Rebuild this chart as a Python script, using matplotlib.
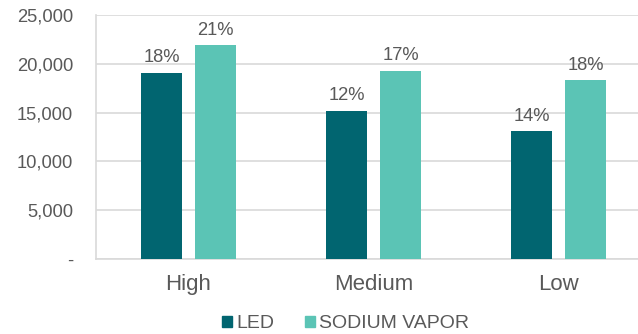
import matplotlib.pyplot as plt
from matplotlib.patches import Rectangle
from matplotlib.ticker import FuncFormatter
import numpy as np

plt.rcParams['font.family'] = ['Liberation Sans', 'DejaVu Sans']

categories = ["High", "Medium", "Low"]
led_values = [19100, 15200, 13100]
sodium_values = [21900, 19300, 18300]
led_labels = ["18%", "12%", "14%"]
sodium_labels = ["21%", "17%", "18%"]

LED_COLOR = "#016570"
SODIUM_COLOR = "#5BC4B5"
TEXT_COLOR = "#595959"
GRID_COLOR = "#D9D9D9"


def fmt_thousands(v, pos):
    if v == 0:
        return "-"
    return f"{v:,.0f}"


fig = plt.figure(figsize=(6.38, 3.34), dpi=100)
ax = fig.add_axes([0.1505, 0.2246, 0.8495, 0.7304])

x = np.arange(len(categories))
width = 0.22
offset = 0.146

bars_led = ax.bar(x - offset, led_values, width, color=LED_COLOR, zorder=3)
bars_sod = ax.bar(x + offset, sodium_values, width, color=SODIUM_COLOR, zorder=3)

# percentage labels above each bar
for bars, labels in [(bars_led, led_labels), (bars_sod, sodium_labels)]:
    for b, lab in zip(bars, labels):
        ax.annotate(lab, (b.get_x() + b.get_width() / 2, b.get_height()),
                    xytext=(0, 4.5), textcoords="offset points",
                    ha="center", va="bottom", fontsize=13.2, color=TEXT_COLOR)

ax.set_xlim(-0.5, 2.43)
ax.set_ylim(0, 25000)
ax.set_yticks(np.arange(0, 25001, 5000))
ax.yaxis.set_major_formatter(FuncFormatter(fmt_thousands))
ax.set_xticks(x)
ax.set_xticklabels(categories)

ax.grid(axis="y", color=GRID_COLOR, linewidth=1.2, zorder=0)
ax.tick_params(axis="y", length=0, pad=16.5, labelsize=13.2, labelcolor=TEXT_COLOR)
ax.tick_params(axis="x", length=0, pad=11, labelsize=16, labelcolor=TEXT_COLOR)

for side in ["top", "right"]:
    ax.spines[side].set_visible(False)
for side in ["left", "bottom"]:
    ax.spines[side].set_color(GRID_COLOR)
    ax.spines[side].set_linewidth(1.2)

handles = [Rectangle((0, 0), 1, 1, color=LED_COLOR),
           Rectangle((0, 0), 1, 1, color=SODIUM_COLOR)]
fig.legend(handles, ["LED", "SODIUM VAPOR"], loc="center",
           bbox_to_anchor=(0.542, 0.03), ncol=2, frameon=False,
           fontsize=14, labelcolor=TEXT_COLOR, handlelength=0.52,
           handleheight=0.52, handletextpad=0.2, columnspacing=1.6,
           borderpad=0, borderaxespad=0)

fig.savefig("out.png", dpi=100)
